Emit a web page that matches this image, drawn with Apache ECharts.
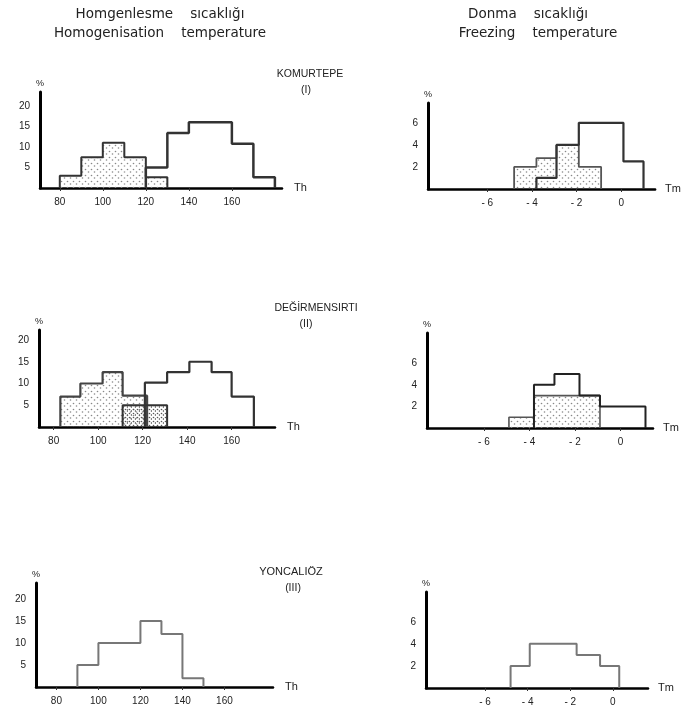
<!DOCTYPE html>
<html>
<head>
<meta charset="utf-8">
<script src="https://cdn.jsdelivr.net/npm/echarts@6/dist/echarts.min.js"></script>
<style>
  html, body { margin: 0; padding: 0; background: #fff; }
  #chart { width: 682px; height: 713px; }
</style>
</head>
<body>
<div id="chart"></div>
<script>
// histogram bins: edges (°C) and frequencies (%)
var kEdges = [80, 90, 100, 110, 120, 130];
var kDots = [3, 7.5, 11, 7.5, 2.6];
var kOpenEdges = [120, 130, 140, 150, 160, 170, 180];
var kOpen = [5, 13.4, 16, 16, 10.8, 2.6];

var kFzDotEdges = [-4.8, -3.8, -2.9, -1.9, -0.9];
var kFzDots = [2, 2.8, 4, 2];
var kFzOpenEdges = [-3.8, -2.9, -1.9, -0.9, 0.1, 1.0];
var kFzOpen = [1, 4, 6, 6, 2.5];

var dEdges = [83, 92, 102, 111, 122];
var dDots = [7, 10, 12.6, 7.2];
var dDenseEdges = [111, 131];
var dDense = [5];
var dOpenEdges = [121, 131, 141, 151, 160, 170];
var dOpen = [10.2, 12.6, 15, 12.6, 7];

var dFzDotEdges = [-4.9, -3.8, -2.9, -1.8, -0.9];
var dFzDots = [1, 3, 3, 3];
var dFzOpenEdges = [-3.8, -2.9, -1.8, -0.9, 1.1];
var dFzOpen = [4, 5, 3, 2];

var yEdges = [90, 100, 110, 120, 130, 140, 150];
var yOpen = [5, 10, 10, 15, 12, 2];

var yFzEdges = [-4.8, -3.9, -2.8, -1.7, -0.6, 0.3];
var yFzOpen = [2, 4, 4, 3, 2];

var thTicks = [80, 100, 120, 140, 160];
var tmTicks = [-6, -4, -2, 0];
var pctThTicks = [5, 10, 15, 20];
var pctTmTicks = [2, 4, 6];

var FONT = 'Liberation Sans';
var TFONT = 'DejaVu Sans';
var INK = '#222';

function makeDots(step, r, col) {
  var c = document.createElement('canvas');
  c.width = step; c.height = step;
  var g = c.getContext('2d');
  g.fillStyle = col;
  g.beginPath(); g.arc(1.5, 1.5, r, 0, Math.PI * 2); g.fill();
  g.beginPath(); g.arc(step / 2 + 1.5, step / 2 + 1, r, 0, Math.PI * 2); g.fill();
  return c;
}
var lightDots = makeDots(6, 0.8, '#888');
var denseDots = makeDots(4, 0.8, '#555');

function stepPts(edges, vals) {
  var pts = [[edges[0], 0]];
  for (var i = 0; i < vals.length; i++) {
    pts.push([edges[i], vals[i]]);
    pts.push([edges[i + 1], vals[i]]);
  }
  pts.push([edges[edges.length - 1], 0]);
  return pts;
}
function bins(edges, vals) {
  return vals.map(function (v, i) { return [edges[i], edges[i + 1], v]; });
}

function stipple(idx, edges, vals, pat) {
  return {
    type: 'custom', xAxisIndex: idx, yAxisIndex: idx, silent: true,
    encode: { x: [0, 1], y: 2 },
    data: bins(edges, vals),
    renderItem: function (params, api) {
      var a = api.coord([api.value(0), 0]);
      var b = api.coord([api.value(1), api.value(2)]);
      return { type: 'rect', shape: { x: a[0], y: b[1], width: b[0] - a[0], height: a[1] - b[1] },
        style: { fill: { image: pat, repeat: 'repeat' } } };
    }
  };
}
function outline(idx, edges, vals, col, w) {
  return {
    type: 'line', xAxisIndex: idx, yAxisIndex: idx, silent: true, symbol: 'none',
    data: stepPts(edges, vals), lineStyle: { color: col, width: w }, z: 3
  };
}

var grids = [
  { left: 40, top: 92, width: 242, height: 96 },
  { left: 428, top: 103, width: 229, height: 86 },
  { left: 39, top: 330, width: 236, height: 97 },
  { left: 427, top: 333, width: 226, height: 95 },
  { left: 36, top: 583, width: 237, height: 104 },
  { left: 426, top: 592, width: 222, height: 96 }
];
var xr = [[70.8, 183.3], [-8.66, 1.52], [73.4, 179.5], [-8.5, 1.43], [70.3, 183.1], [-8.77, 1.65]];
var yr = [23.4, 7.8, 22.3, 8.8, 23.6, 8.7];

var xAxes = grids.map(function (g, i) {
  var th = i % 2 === 0;
  return {
    type: 'value', gridIndex: i, min: xr[i][0], max: xr[i][1],
    name: th ? 'Th' : 'Tm', nameLocation: 'end', nameGap: th ? 12 : 10,
    nameTextStyle: { fontFamily: FONT, fontSize: 11, color: INK },
    axisLine: { onZero: false, lineStyle: { color: '#000', width: 2.5 } },
    axisTick: { show: true, length: 3, customValues: th ? thTicks : tmTicks, lineStyle: { color: '#333' } },
    axisLabel: { customValues: th ? thTicks : tmTicks, margin: 9, fontFamily: FONT, fontSize: 10, color: INK,
      formatter: function (v) { return v < 0 ? '- ' + (-v) : String(v); } },
    splitLine: { show: false }
  };
});
var yAxes = grids.map(function (g, i) {
  var th = i % 2 === 0;
  return {
    type: 'value', gridIndex: i, min: 0, max: yr[i],
    name: '%', nameLocation: 'end', nameGap: 4,
    nameTextStyle: { fontFamily: FONT, fontSize: 9, color: INK },
    axisLine: { show: true, onZero: false, lineStyle: { color: '#000', width: 3 } },
    axisTick: { show: false },
    axisLabel: { customValues: th ? pctThTicks : pctTmTicks, margin: 10, fontFamily: FONT, fontSize: 10, color: INK },
    splitLine: { show: false }
  };
});

var series = [
  stipple(0, kEdges, kDots, lightDots),
  outline(0, kEdges, kDots, '#333', 2),
  outline(0, kOpenEdges, kOpen, '#333', 2.5),

  stipple(1, kFzDotEdges, kFzDots, lightDots),
  outline(1, kFzDotEdges, kFzDots, '#555', 1.8),
  outline(1, kFzOpenEdges, kFzOpen, '#333', 2.2),

  stipple(2, dEdges, dDots, lightDots),
  outline(2, dEdges, dDots, '#444', 2.2),
  stipple(2, dDenseEdges, dDense, denseDots),
  outline(2, dDenseEdges, dDense, '#333', 2),
  outline(2, dOpenEdges, dOpen, '#333', 2.2),

  stipple(3, dFzDotEdges, dFzDots, lightDots),
  outline(3, dFzDotEdges, dFzDots, '#555', 1.6),
  outline(3, dFzOpenEdges, dFzOpen, '#222', 2),

  outline(4, yEdges, yOpen, '#777', 2),
  outline(5, yFzEdges, yFzOpen, '#777', 2)
];

function label(x, y, s, size, font) {
  return { type: 'text', x: x, y: y, style: { text: s, fontFamily: font || FONT, fontSize: size, fill: INK, align: 'center' } };
}

var chart = echarts.init(document.getElementById('chart'), null, { renderer: 'canvas' });
chart.setOption({
  backgroundColor: '#fff',
  animation: false,
  grid: grids,
  xAxis: xAxes,
  yAxis: yAxes,
  series: series,
  graphic: [
    label(160, 7, 'Homgenlesme    sıcaklığı', 13.5, TFONT),
    label(160, 26, 'Homogenisation    temperature', 13.5, TFONT),
    label(528, 7, 'Donma    sıcaklığı', 13.5, TFONT),
    label(538, 26, 'Freezing    temperature', 13.5, TFONT),
    label(310, 69, 'KOMURTEPE', 10.5),
    label(306, 85, '(I)', 10.5),
    label(316, 303, 'DEĞİRMENSIRTI', 10.5),
    label(306, 319, '(II)', 10.5),
    label(291, 566, 'YONCALIÖZ', 11),
    label(293, 583, '(III)', 10.5)
  ]
});
</script>
</body>
</html>
